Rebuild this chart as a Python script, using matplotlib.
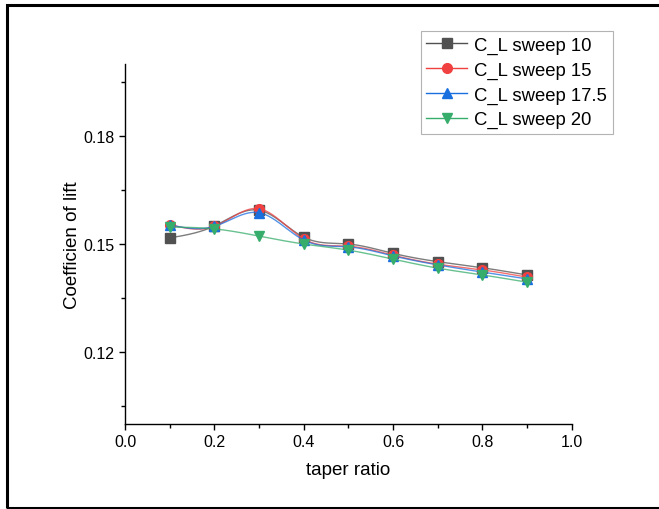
import numpy as np
import matplotlib
matplotlib.use("Agg")
import matplotlib.pyplot as plt
from matplotlib.patches import Rectangle
from matplotlib.ticker import MultipleLocator

plt.rcParams['font.family'] = ['Liberation Sans', 'DejaVu Sans']

# data
taper = [0.1, 0.2, 0.3, 0.4, 0.5, 0.6, 0.7, 0.8, 0.9]
cl_sweep10 = [0.1517, 0.1550, 0.1594, 0.1519, 0.1500, 0.1474, 0.1451, 0.1434, 0.1414]
cl_sweep15 = [0.1554, 0.1549, 0.1598, 0.1514, 0.1494, 0.1469, 0.1444, 0.1428, 0.1408]
cl_sweep175 = [0.1553, 0.1549, 0.1587, 0.1511, 0.1492, 0.1467, 0.1442, 0.1422, 0.1403]
cl_sweep20 = [0.1547, 0.1542, 0.1522, 0.1500, 0.1483, 0.1458, 0.1433, 0.1414, 0.1394]
labels = ["C_L sweep 10", "C_L sweep 15", "C_L sweep 17.5", "C_L sweep 20"]
colors = ["#515151", "#F14040", "#1A6FDF", "#37AD6B"]
markers = ["s", "o", "^", "v"]


# natural cubic spline, like origin's spline connect
def spline(x, y, n=300):
    x = np.asarray(x, float)
    y = np.asarray(y, float)
    k = len(x)
    h = np.diff(x)
    A = np.zeros((k, k))
    b = np.zeros(k)
    A[0, 0] = 1
    A[-1, -1] = 1
    for i in range(1, k - 1):
        A[i, i - 1] = h[i - 1]
        A[i, i] = 2 * (h[i - 1] + h[i])
        A[i, i + 1] = h[i]
        b[i] = 6 * ((y[i + 1] - y[i]) / h[i] - (y[i] - y[i - 1]) / h[i - 1])
    m = np.linalg.solve(A, b)
    xs = np.linspace(x[0], x[-1], n)
    idx = np.clip(np.searchsorted(x, xs) - 1, 0, k - 2)
    t = xs - x[idx]
    hi = h[idx]
    a = (m[idx + 1] - m[idx]) / (6 * hi)
    bb = m[idx] / 2
    c = (y[idx + 1] - y[idx]) / hi - hi * (2 * m[idx] + m[idx + 1]) / 6
    ys = y[idx] + c * t + bb * t ** 2 + a * t ** 3
    return xs, ys


fig = plt.figure(figsize=(6.59, 5.10), dpi=100)
ax = fig.add_axes([0.1897, 0.1667, 0.6778, 0.7058])

series = [cl_sweep10, cl_sweep15, cl_sweep175, cl_sweep20]
for vals, lab, col, mk in zip(series, labels, colors, markers):
    xs, ys = spline(taper, vals)
    ax.plot(xs, ys, color=col, lw=1, alpha=0.75)
    ax.plot(taper, vals, linestyle='none', marker=mk, color=col, ms=7)
    # legend proxy
    ax.plot([], [], color=col, lw=1, marker=mk, ms=7, label=lab)

ax.set_xlim(0, 1.0)
ax.set_ylim(0.1, 0.2)
ax.xaxis.set_major_locator(MultipleLocator(0.2))
ax.xaxis.set_minor_locator(MultipleLocator(0.1))
ax.set_yticks([0.12, 0.15, 0.18])
ax.set_yticks([0.105, 0.135, 0.165, 0.195], minor=True)
ax.yaxis.set_major_formatter(matplotlib.ticker.FormatStrFormatter('%.2f'))
ax.xaxis.set_major_formatter(matplotlib.ticker.FormatStrFormatter('%.1f'))
ax.tick_params(which='both', direction='out', length=4, width=1, labelsize=11.5, color='black')
ax.tick_params(which='minor', length=3)

for s in ['top', 'right']:
    ax.spines[s].set_visible(False)
for s in ['left', 'bottom']:
    ax.spines[s].set_linewidth(1)

ax.set_xlabel("taper ratio", fontsize=13.5, labelpad=8)
ax.set_ylabel("Coefficien of lift", fontsize=13.5, labelpad=2)

leg = ax.legend(loc='upper right', bbox_to_anchor=(1.092, 1.092), borderaxespad=0, fontsize=13.3,
                frameon=True, fancybox=False, edgecolor='#a0a0a0', handlelength=2.2,
                handletextpad=0.4, borderpad=0.3, labelspacing=0.42)
leg.get_frame().set_linewidth(0.8)

# black border round the whole picture
fig.patches.append(Rectangle((6.5 / 659, 1.5 / 510), 1.0, 502.5 / 510, transform=fig.transFigure,
                             fill=False, edgecolor='black', lw=2.2))

fig.savefig("out.png", dpi=100)
